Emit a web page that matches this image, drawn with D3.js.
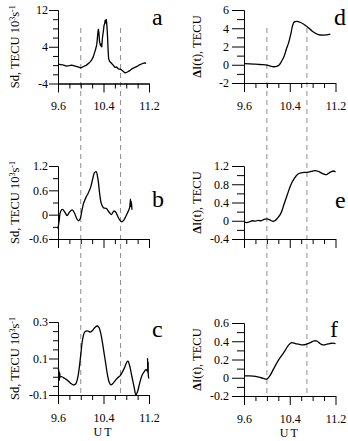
<!DOCTYPE html>
<html>
<head>
<meta charset="utf-8">
<script src="https://cdn.jsdelivr.net/npm/d3@7"></script>
<style>
  html, body { margin: 0; padding: 0; background: #fff; }
  svg { display: block; }
  text { font-family: "Liberation Serif", "Times New Roman", serif; fill: #000; }
</style>
</head>
<body>
<div id="chart"></div>
<script>
// Six panels: Sd (left: a, b, c) and ΔI(t) (right: d, e, f) vs UT

// UT ticks shared by all panels
const utTicks = [9.6, 9.8, 10.0, 10.2, 10.4, 10.6, 10.8, 11.0, 11.2];
const utLabels = [9.6, 10.4, 11.2];
const markerTimes = [10.0, 10.7];

// panel a: Sd, TECU 10^3 s^-1
const sdA = [[9.6,0.2],[9.65,0.1],[9.7,0],[9.75,-0.2],[9.8,-0.1],[9.84,0.0],[9.9,-0.2],[9.95,-0.4],[10.0,-0.6],
  [10.05,-0.3],[10.1,0],[10.15,0.5],[10.19,1.1],[10.22,1.8],[10.24,2.6],[10.26,3.4],[10.28,4.4],[10.29,5.5],
  [10.3,6.9],[10.31,7.8],[10.32,7.0],[10.33,5.1],[10.34,4.6],[10.35,4.2],[10.36,4.6],[10.37,4.0],[10.38,5.8],
  [10.4,7.6],[10.41,8.7],[10.42,9.0],[10.43,9.8],[10.44,9.2],[10.45,9.9],[10.46,8.6],[10.47,6.5],[10.48,3.5],
  [10.49,1.4],[10.51,0.8],[10.54,0.4],[10.57,0.0],[10.6,-0.5],[10.63,-0.4],[10.66,-0.8],[10.7,-0.9],[10.74,-1.3],
  [10.78,-1.7],[10.82,-1.5],[10.86,-1.2],[10.9,-0.8],[10.95,-0.5],[11.0,-0.2],[11.04,0.1],[11.08,0.3],[11.12,0.5],[11.15,0.4]];

// panel b
const sdB = [[9.6,-0.35],[9.62,-0.15],[9.645,0.08],[9.68,0.13],[9.72,0.06],[9.76,-0.02],[9.8,0.06],[9.85,0.12],
  [9.89,0.04],[9.93,-0.1],[9.96,-0.15],[9.99,-0.1],[10.02,0.1],[10.05,0.28],[10.09,0.42],[10.13,0.53],[10.17,0.66],
  [10.21,0.88],[10.24,1.03],[10.27,1.06],[10.3,0.9],[10.33,0.55],[10.36,0.28],[10.4,0.17],[10.45,0.15],[10.5,0.06],
  [10.54,0.0],[10.58,0.09],[10.61,0.07],[10.65,-0.04],[10.69,-0.14],[10.72,-0.18],[10.76,-0.13],[10.8,-0.02],
  [10.84,0.1],[10.86,0.18],[10.875,0.38],[10.88,0.2],[10.89,0.32],[10.9,0.12]];

// panel c
const sdC = [[9.6,0.045],[9.61,0.04],[9.615,0.0],[9.62,0.03],[9.625,-0.02],[9.63,0.02],[9.64,0.0],[9.67,0.0],
  [9.72,-0.01],[9.77,-0.02],[9.82,-0.035],[9.87,-0.045],[9.91,-0.04],[9.94,-0.015],[9.97,0.04],[10.0,0.12],
  [10.03,0.2],[10.06,0.24],[10.09,0.25],[10.13,0.25],[10.17,0.245],[10.21,0.255],[10.25,0.27],[10.29,0.278],
  [10.32,0.27],[10.35,0.24],[10.38,0.19],[10.41,0.13],[10.44,0.07],[10.47,0.01],[10.5,-0.03],[10.53,-0.045],
  [10.57,-0.035],[10.61,-0.02],[10.65,-0.005],[10.69,0.005],[10.73,0.025],[10.77,0.05],[10.81,0.08],[10.83,0.085],
  [10.86,0.06],[10.9,0.0],[10.94,-0.06],[10.97,-0.1],[11.0,-0.08],[11.04,-0.03],[11.08,0.01],[11.12,0.03],
  [11.15,0.04],[11.17,0.03],[11.175,0.1],[11.18,0.02],[11.185,0.08],[11.19,0.0],[11.2,-0.01]];

// panel d: ΔI(t), TECU
const diD = [[9.6,0.12],[9.7,0.1],[9.8,0.06],[9.9,0.02],[10.0,-0.03],[10.06,-0.15],[10.12,-0.22],[10.17,-0.18],
  [10.21,-0.05],[10.25,0.3],[10.3,0.9],[10.34,1.7],[10.38,2.4],[10.42,3.4],[10.45,4.3],[10.48,4.7],[10.53,4.75],
  [10.6,4.6],[10.7,4.2],[10.8,3.65],[10.9,3.3],[11.0,3.25],[11.11,3.35]];

// panel e
const diE = [[9.6,-0.03],[9.65,-0.04],[9.7,-0.02],[9.75,0.0],[9.8,-0.01],[9.85,0.01],[9.9,0.0],[9.95,0.03],
  [10.0,0.04],[10.05,0.02],[10.1,-0.01],[10.14,0.0],[10.18,0.05],[10.24,0.15],[10.3,0.36],[10.36,0.58],
  [10.42,0.79],[10.48,0.93],[10.54,1.02],[10.6,1.05],[10.65,1.06],[10.7,1.06],[10.75,1.07],[10.8,1.09],
  [10.85,1.1],[10.9,1.08],[10.95,1.05],[11.0,1.02],[11.04,1.01],[11.08,1.04],[11.12,1.07],[11.16,1.09],[11.2,1.07]];

// panel f
const diF = [[9.6,0.02],[9.7,0.02],[9.8,0.015],[9.9,0.0],[9.95,-0.01],[10.0,-0.015],[10.05,0.02],[10.12,0.1],
  [10.2,0.19],[10.3,0.28],[10.37,0.35],[10.43,0.385],[10.5,0.375],[10.57,0.365],[10.63,0.36],[10.7,0.37],
  [10.76,0.385],[10.83,0.405],[10.88,0.4],[10.93,0.375],[10.98,0.36],[11.04,0.365],[11.1,0.375],[11.16,0.38],[11.2,0.375]];

// y ticks per panel: [min, max, step] and labelled values
const yTicksA = [-4, 12, 2],    yLabelsA = [12, 4, -4];
const yTicksB = [-0.6, 1.2, 0.3], yLabelsB = [1.2, 0.6, 0, -0.6];
const yTicksC = [-0.1, 0.3, 0.05], yLabelsC = [0.3, 0.1, -0.1];
const yTicksD = [-2, 6, 1],     yLabelsD = [6, 4, 2, 0, -2];
const yTicksE = [-0.4, 1.2, 0.2], yLabelsE = [1.2, 0.8, 0.4, 0, -0.4];
const yTicksF = [-0.2, 0.6, 0.1], yLabelsF = [0.6, 0.4, 0.2, 0, -0.2];

const W = 348, H = 441;
const svg = d3.select('#chart').append('svg').attr('width', W).attr('height', H);

const cols = {
    left:  { x0: 58,  x1: 149,   labelX: 19,  tickMajor: 9,  tickMinor: 5, pad: 1 },
    right: { x0: 244, x1: 335.5, labelX: 201, tickMajor: 12, tickMinor: 7, pad: 3 }
};

const panels = [
    { col: 'left',  data: sdA, ticks: yTicksA, labels: yLabelsA, top: 10,  bottom: 83.5, letter: 'a', lx: 152, ly: 25,  xLabels: true,  ut: false, curve: d3.curveLinear },
    { col: 'left',  data: sdB, ticks: yTicksB, labels: yLabelsB, top: 166, bottom: 239,  letter: 'b', lx: 152, ly: 207, xLabels: false, ut: false, curve: d3.curveCatmullRom },
    { col: 'left',  data: sdC, ticks: yTicksC, labels: yLabelsC, top: 322, bottom: 395,  letter: 'c', lx: 152, ly: 337, xLabels: true,  ut: true,  curve: d3.curveCatmullRom },
    { col: 'right', data: diD, ticks: yTicksD, labels: yLabelsD, top: 10,  bottom: 83,   letter: 'd', lx: 334, ly: 25,  xLabels: true,  ut: false, curve: d3.curveCatmullRom },
    { col: 'right', data: diE, ticks: yTicksE, labels: yLabelsE, top: 166, bottom: 239,  letter: 'e', lx: 335, ly: 208, xLabels: false, ut: false, curve: d3.curveCatmullRom },
    { col: 'right', data: diF, ticks: yTicksF, labels: yLabelsF, top: 323, bottom: 396,  letter: 'f', lx: 330, ly: 337, xLabels: true,  ut: true,  curve: d3.curveCatmullRom }
];

const near = (a, b) => Math.abs(a - b) < 1e-6;

// dashed marker lines, drawn across all three panels of a column
['left', 'right'].forEach(key => {
    const c = cols[key];
    const x = d3.scaleLinear().domain([9.6, 11.2]).range([c.x0, c.x1]);
    svg.selectAll(null)
        .data(markerTimes)
        .enter()
        .append('line')
        .attr('x1', d => x(d)).attr('x2', d => x(d))
        .attr('y1', 28).attr('y2', key === 'left' ? 395 : 396)
        .attr('stroke', '#8c8c8c')
        .attr('stroke-width', 1)
        .attr('stroke-dasharray', '5,4');
});

panels.forEach(p => {
    const c = cols[p.col];
    const x = d3.scaleLinear().domain([9.6, 11.2]).range([c.x0, c.x1]);
    const y = d3.scaleLinear().domain([p.ticks[0], p.ticks[1]]).range([p.bottom, p.top]);

    const allY = d3.range(Math.round((p.ticks[1] - p.ticks[0]) / p.ticks[2]) + 1)
        .map(i => +(p.ticks[0] + i * p.ticks[2]).toFixed(4));
    const minorY = allY.filter(v => !p.labels.some(l => near(l, v)));
    const minorX = utTicks.filter(v => !utLabels.some(l => near(l, v)));

    const g = svg.append('g');

    // y axis: minor ticks, then labelled ticks
    g.append('g')
        .attr('transform', `translate(${c.x0},0)`)
        .call(d3.axisLeft(y).tickValues(minorY).tickSize(c.tickMinor).tickSizeOuter(0).tickFormat(''));
    g.append('g')
        .attr('class', 'y-major')
        .attr('transform', `translate(${c.x0},0)`)
        .call(d3.axisLeft(y).tickValues(p.labels).tickSize(c.tickMajor).tickPadding(c.pad)
            .tickSizeOuter(0).tickFormat(d => String(d)));

    // x axis
    g.append('g')
        .attr('transform', `translate(0,${p.bottom})`)
        .call(d3.axisBottom(x).tickValues(minorX).tickSize(5).tickSizeOuter(0).tickFormat(''));
    g.append('g')
        .attr('class', 'x-major')
        .attr('transform', `translate(0,${p.bottom})`)
        .call(d3.axisBottom(x).tickValues(utLabels).tickSize(9).tickPadding(9).tickSizeOuter(0)
            .tickFormat(d => p.xLabels ? String(d) : ''));

    g.selectAll('.domain, .tick line').attr('stroke', '#000').attr('stroke-width', 1);
    g.selectAll('.tick text')
        .attr('font-family', '"Liberation Serif", serif')
        .attr('font-size', 12)
        .attr('fill', '#000');

    // curve
    const line = d3.line()
        .x(d => x(d[0]))
        .y(d => y(d[1]))
        .curve(p.curve);

    g.append('path')
        .datum(p.data)
        .attr('fill', 'none')
        .attr('stroke', '#000')
        .attr('stroke-width', 1.3)
        .attr('stroke-linejoin', 'round')
        .attr('d', line);

    // panel letter
    g.append('text')
        .attr('x', p.lx)
        .attr('y', p.ly)
        .attr('font-size', 24)
        .text(p.letter);

    // y axis title (rotated)
    const cy = (p.top + p.bottom) / 2;
    const t = g.append('text')
        .attr('transform', `translate(${c.labelX},${cy}) rotate(-90)`)
        .attr('text-anchor', 'middle')
        .attr('font-size', 12.5);
    if (p.col === 'left') {
        t.append('tspan').text('Sd, TECU 10');
        t.append('tspan').attr('font-size', 8).attr('dy', -4).text('3');
        t.append('tspan').attr('dy', 4).text('s');
        t.append('tspan').attr('font-size', 8).attr('dy', -4).text('-1');
    } else {
        t.append('tspan').attr('font-weight', 'bold').text('Δ');
        t.append('tspan').text('I(t), TECU');
    }

    // UT title
    if (p.ut) {
        g.append('text')
            .attr('x', (c.x0 + c.x1) / 2)
            .attr('y', p.bottom + 41)
            .attr('text-anchor', 'middle')
            .attr('font-size', 12)
            .attr('letter-spacing', 2)
            .text('UT');
    }
});
</script>
</body>
</html>
